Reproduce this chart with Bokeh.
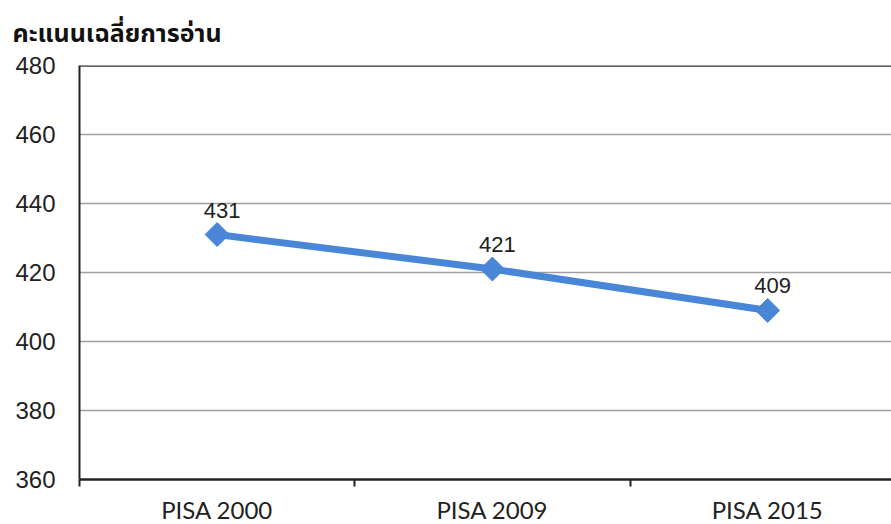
import math
from bokeh.plotting import figure
from bokeh.models import ColumnDataSource, LabelSet, Range1d, FixedTicker, Span
from bokeh.core.properties import value
from bokeh.embed import file_html
from bokeh.resources import INLINE

title_text = "คะแนนเฉลี่ยการอ่าน"
categories = ["PISA 2000", "PISA 2009", "PISA 2015"]
scores = [431, 421, 409]
y_ticks = [360, 380, 400, 420, 440, 460, 480]

xs = [i + 0.5 for i in range(len(categories))]
src = ColumnDataSource(dict(x=xs, y=scores, lab=[str(s) for s in scores]))

p = figure(width=891, height=533, output_backend="svg", toolbar_location=None,
           x_range=Range1d(0, 2.95), y_range=Range1d(360, 480),
           min_border_left=79, min_border_right=0, min_border_top=65, min_border_bottom=54)
p.outline_line_color = None
p.background_fill_color = "white"
p.border_fill_color = "white"

p.title.text = title_text
p.title.text_font = "Noto Sans Thai, Tahoma, Noto Sans, sans-serif"
p.title.text_font_size = "25px"
p.title.text_font_style = "bold"
p.title.text_color = "#111111"
p.title.align = "left"
p.title.offset = -67
p.title.standoff = 25

p.xgrid.grid_line_color = None
p.ygrid.grid_line_color = "#a0a0a0"
p.ygrid.grid_line_width = 1.5
p.yaxis.ticker = FixedTicker(ticks=y_ticks)
p.yaxis.major_tick_out = 0
p.yaxis.major_tick_in = 0
p.yaxis.minor_tick_out = 0
p.yaxis.axis_line_color = "#222222"
p.yaxis.axis_line_width = 2
p.yaxis.major_label_text_font = "Liberation Sans"
p.yaxis.major_label_text_font_size = "24px"
p.yaxis.major_label_text_color = "#222222"
p.yaxis.major_label_standoff = 24

p.xaxis.ticker = FixedTicker(ticks=xs, minor_ticks=[0, 1, 2, 3])
p.xaxis.major_label_overrides = {x: c for x, c in zip(xs, categories)}
p.xaxis.major_tick_out = 0
p.xaxis.major_tick_in = 0
p.xaxis.minor_tick_out = 7
p.xaxis.minor_tick_in = 0
p.xaxis.minor_tick_line_width = 2
p.xaxis.minor_tick_line_color = "#222222"
p.xaxis.axis_line_color = "#222222"
p.xaxis.axis_line_width = 2.5
p.xaxis.major_label_text_font = "Lato"
p.xaxis.major_label_text_font_size = "24px"
p.xaxis.major_label_text_color = "#222222"
p.xaxis.major_label_standoff = 8

p.add_layout(Span(location=480, dimension="width", line_color="#333333", line_width=2.5))

p.line("x", "y", source=src, line_color="#4a86d8", line_width=7)
p.scatter("x", "y", source=src, marker="square", size=17, angle=math.pi / 4,
          fill_color="#4a86d8", line_color="#4a86d8")

p.add_layout(LabelSet(x="x", y="y", text="lab", source=src, x_offset=5, y_offset=17,
                      text_align="center", text_baseline="bottom",
                      text_font=value("Liberation Sans"), text_font_size="22px",
                      text_color="#222222"))

open("out.html", "w").write(file_html(p, INLINE))
